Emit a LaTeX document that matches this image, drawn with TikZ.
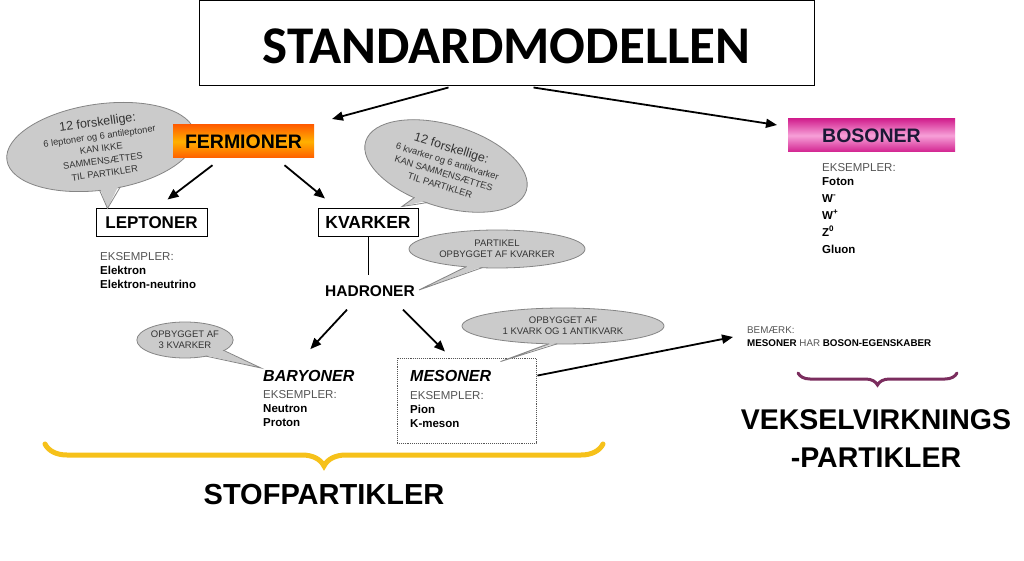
\documentclass[tikz,border=0pt]{standalone}
\usepackage{fontspec}
\setmainfont{Liberation Sans}
\newfontfamily\titlefont{Carlito}
\usetikzlibrary{shapes.geometric,arrows.meta,decorations.pathreplacing,calc}
\definecolor{bubfill}{HTML}{CBCBCB}
\definecolor{bubline}{HTML}{858585}
\definecolor{bubtext}{HTML}{333333}
\definecolor{exgray}{HTML}{555555}
\definecolor{fermA}{HTML}{FF5E00}
\definecolor{fermB}{HTML}{FFB000}
\definecolor{bosA}{HTML}{D2228F}
\definecolor{bosB}{HTML}{F7A0D8}
\definecolor{bostext}{HTML}{1C1836}
\definecolor{goldbrace}{HTML}{F6C11A}
\definecolor{plumbrace}{HTML}{7B2D5E}
\begin{document}
\begin{tikzpicture}[x=1pt,y=-1pt,
  arr/.style={line width=1.8pt,-{Triangle[length=11pt,width=9pt]}},
  bubble/.style={ellipse,draw=bubline,fill=bubfill,line width=0.8pt,inner sep=0pt,align=center,text=bubtext},
  tailfill/.style={fill=bubfill},
  tailline/.style={draw=bubline,line width=0.8pt,line join=miter},
  plain/.style={inner sep=0pt},
  bigbox/.style={draw=black,line width=1pt,fill=white,inner sep=0pt},
  exlist/.style={inner sep=0pt,anchor=north west,align=left,font=\fontsize{11.5}{14}\selectfont},
  smallb/.style={font=\fontsize{9.5}{11}\selectfont},
  bubtxt/.style={font=\fontsize{9.3}{11}\selectfont}
]
\useasboundingbox (0,0) rectangle (1024,561);
\fill[white] (0,0) rectangle (1024,561);

% title
\node[bigbox,minimum width=615,minimum height=85] (title) at (506.5,43.5) {};
\node[plain,font=\titlefont\bfseries\fontsize{53}{53}\selectfont] (titletext) at ($(title.center)+(0,2.5)$) {STANDARDMODELLEN};

% bubble 1 (behind FERMIONER)
\node[bubble,bubtxt,rotate=8,minimum width=190,minimum height=86] (b1) at (101,147)
  {{\fontsize{12.5}{13}\selectfont 12 forskellige:}\\[2pt]
   6 leptoner og 6 antileptoner\\[1.5pt]
   KAN IKKE\\[1.5pt]
   SAMMENSÆTTES\\[1.5pt]
   TIL PARTIKLER};

% fermioner / bosoner
\node[plain,minimum width=141,minimum height=33,top color=fermA,bottom color=fermA,middle color=fermB,
  font=\bfseries\fontsize{19.5}{19.5}\selectfont] (ferm) at (243.5,141.5) {FERMIONER};
\node[plain,minimum width=167,minimum height=33,top color=bosA,bottom color=bosA,middle color=bosB,
  text=bostext,font=\bfseries\fontsize{19.5}{19.5}\selectfont] (bos) at (871.5,135.5) {BOSONER};

\coordinate (tA) at (332,119);
\coordinate (tB) at (777,125);
\draw[arr] ($(title.south)+(-58,1)$) -- (tA);
\draw[arr] ($(title.south)+(27,1)$) -- (tB);

% leptoner / kvarker
\node[bigbox,minimum width=111,minimum height=27,font=\bfseries\fontsize{17}{17}\selectfont] (lep) at (151.5,222.5) {LEPTONER};
\node[bigbox,minimum width=100,minimum height=27,font=\bfseries\fontsize{17.5}{17.5}\selectfont] (kva) at (368,222.5) {KVARKER};

\draw[arr] ($(ferm.south)+(-31,7)$) -- ($(lep.north)+(16,-9)$);
\draw[arr] ($(ferm.south)+(41,7)$) -- ($(kva.north)+(-43,-10)$);

\coordinate (p1) at ($(lep.north)+(-44,0)$);
\fill[tailfill] ($(b1.-100)!0.08!(b1.center)$) -- (p1) -- ($(b1.-72)!0.08!(b1.center)$) -- cycle;
\draw[tailline] ($(b1.-100)!0.02!(b1.center)$) -- (p1) -- ($(b1.-72)!0.02!(b1.center)$);

% bubble 2
\node[bubble,bubtxt,rotate=-17,minimum width=168,minimum height=82] (b2) at (446,166)
  {{\fontsize{12.5}{13}\selectfont 12 forskellige:}\\[2pt]
   6 kvarker og 6 antikvarker\\[1.5pt]
   KAN SAMMENSÆTTES\\[1.5pt]
   TIL PARTIKLER};
\coordinate (p2) at ($(kva.north)+(34,-2)$);
\fill[tailfill] ($(b2.-118)!0.08!(b2.center)$) -- (p2) -- ($(b2.-100)!0.08!(b2.center)$) -- cycle;
\draw[tailline] ($(b2.-118)!0.02!(b2.center)$) -- (p2) -- ($(b2.-100)!0.02!(b2.center)$);

% examples leptoner
\node[exlist] (lex) at (100,252) {\textcolor{exgray}{EKSEMPLER:}\\\textbf{Elektron}\\\textbf{Elektron-neutrino}};

% bosoner examples
\node[exlist,font=\fontsize{11.5}{17}\selectfont] (bex) at (822,163)
  {\textcolor{exgray}{EKSEMPLER:}\\[-3pt]\textbf{Foton}\\\textbf{W\textsuperscript{-}}\\\textbf{W\textsuperscript{+}}\\\textbf{Z\textsuperscript{0}}\\\textbf{Gluon}};

% hadroner
\node[plain,font=\bfseries\fontsize{15.5}{15.5}\selectfont] (had) at (370,291) {HADRONER};
\draw[line width=0.9pt] (kva.south) -- ($(had.north)+(-2,-10)$);

% bubble 3
\node[bubble,smallb,minimum width=176,minimum height=38] (b3) at (497,249)
  {PARTIKEL\\OPBYGGET AF KVARKER};
\coordinate (p3) at ($(had.east)+(4,-1)$);
\fill[tailfill] ($(b3.-150)!0.1!(b3.center)$) -- (p3) -- ($(b3.-128)!0.1!(b3.center)$) -- cycle;
\draw[tailline] ($(b3.-150)!0.03!(b3.center)$) -- (p3) -- ($(b3.-128)!0.03!(b3.center)$);

% baryoner / mesoner
\node[plain,anchor=west,font=\bfseries\itshape\fontsize{16}{16}\selectfont] (bar) at (263,376) {BARYONER};
\node[exlist] (barex) at (263,390) {\textcolor{exgray}{EKSEMPLER:}\\\textbf{Neutron}\\\textbf{Proton}};
\node[draw=exgray,densely dotted,line width=0.9pt,minimum width=139,minimum height=85,inner sep=0pt] (mes) at (466.5,400.5) {};
\node[plain,anchor=west,font=\bfseries\itshape\fontsize{16}{16}\selectfont] (mest) at (410,376) {MESONER};
\node[exlist] (mesex) at (410,391) {\textcolor{exgray}{EKSEMPLER:}\\\textbf{Pion}\\\textbf{K-meson}};

\draw[arr] ($(had.south)+(-23,13)$) -- ($(bar.north)+(1.5,-21)$);
\draw[arr] ($(had.south)+(33,13)$) -- ($(mes.north)+(-21.5,-6)$);

% bubble 4
\node[bubble,smallb,minimum width=94,minimum height=36] (b4) at (185,340) {OPBYGGET AF\\3 KVARKER};
\coordinate (p4) at ($(bar.west)+(-2,-8)$);
\fill[tailfill] ($(b4.-38)!0.1!(b4.center)$) -- (p4) -- ($(b4.-15)!0.1!(b4.center)$) -- cycle;
\draw[tailline] ($(b4.-38)!0.03!(b4.center)$) -- (p4) -- ($(b4.-15)!0.03!(b4.center)$);

% bubble 5
\node[bubble,smallb,minimum width=202,minimum height=36] (b5) at (563,326) {OPBYGGET AF\\1 KVARK OG 1 ANTIKVARK};
\coordinate (p5) at ($(mes.north)+(34,4)$);
\fill[tailfill] ($(b5.-128)!0.1!(b5.center)$) -- (p5) -- ($(b5.-108)!0.1!(b5.center)$) -- cycle;
\draw[tailline] ($(b5.-128)!0.03!(b5.center)$) -- (p5) -- ($(b5.-108)!0.03!(b5.center)$);

% bemaerk
\node[exlist,font=\fontsize{9.8}{13}\selectfont] (bem) at (747,327)
  {\textcolor{exgray}{BEMÆRK:}\\\textbf{MESONER} \textcolor{exgray}{HAR} \textbf{BOSON-EGENSKABER}};
\draw[arr] ($(mes.north east)+(1,18)$) -- ($(bem.north west)+(-14,10)$);

% braces
\draw[goldbrace,line width=5pt,line cap=round,decorate,decoration={brace,mirror,amplitude=22pt}] (45,444) -- (603,444);
\draw[plumbrace,line width=3pt,line cap=round,decorate,decoration={brace,mirror,amplitude=12pt}] (798,373) -- (957,373);

\node[plain,font=\bfseries\fontsize{29}{29}\selectfont] (stof) at (324,495) {STOFPARTIKLER};
\node[plain,align=center,font=\bfseries\fontsize{28.5}{38}\selectfont] (veks) at (876,439) {VEKSELVIRKNINGS\\-PARTIKLER};
\end{tikzpicture}
\end{document}
